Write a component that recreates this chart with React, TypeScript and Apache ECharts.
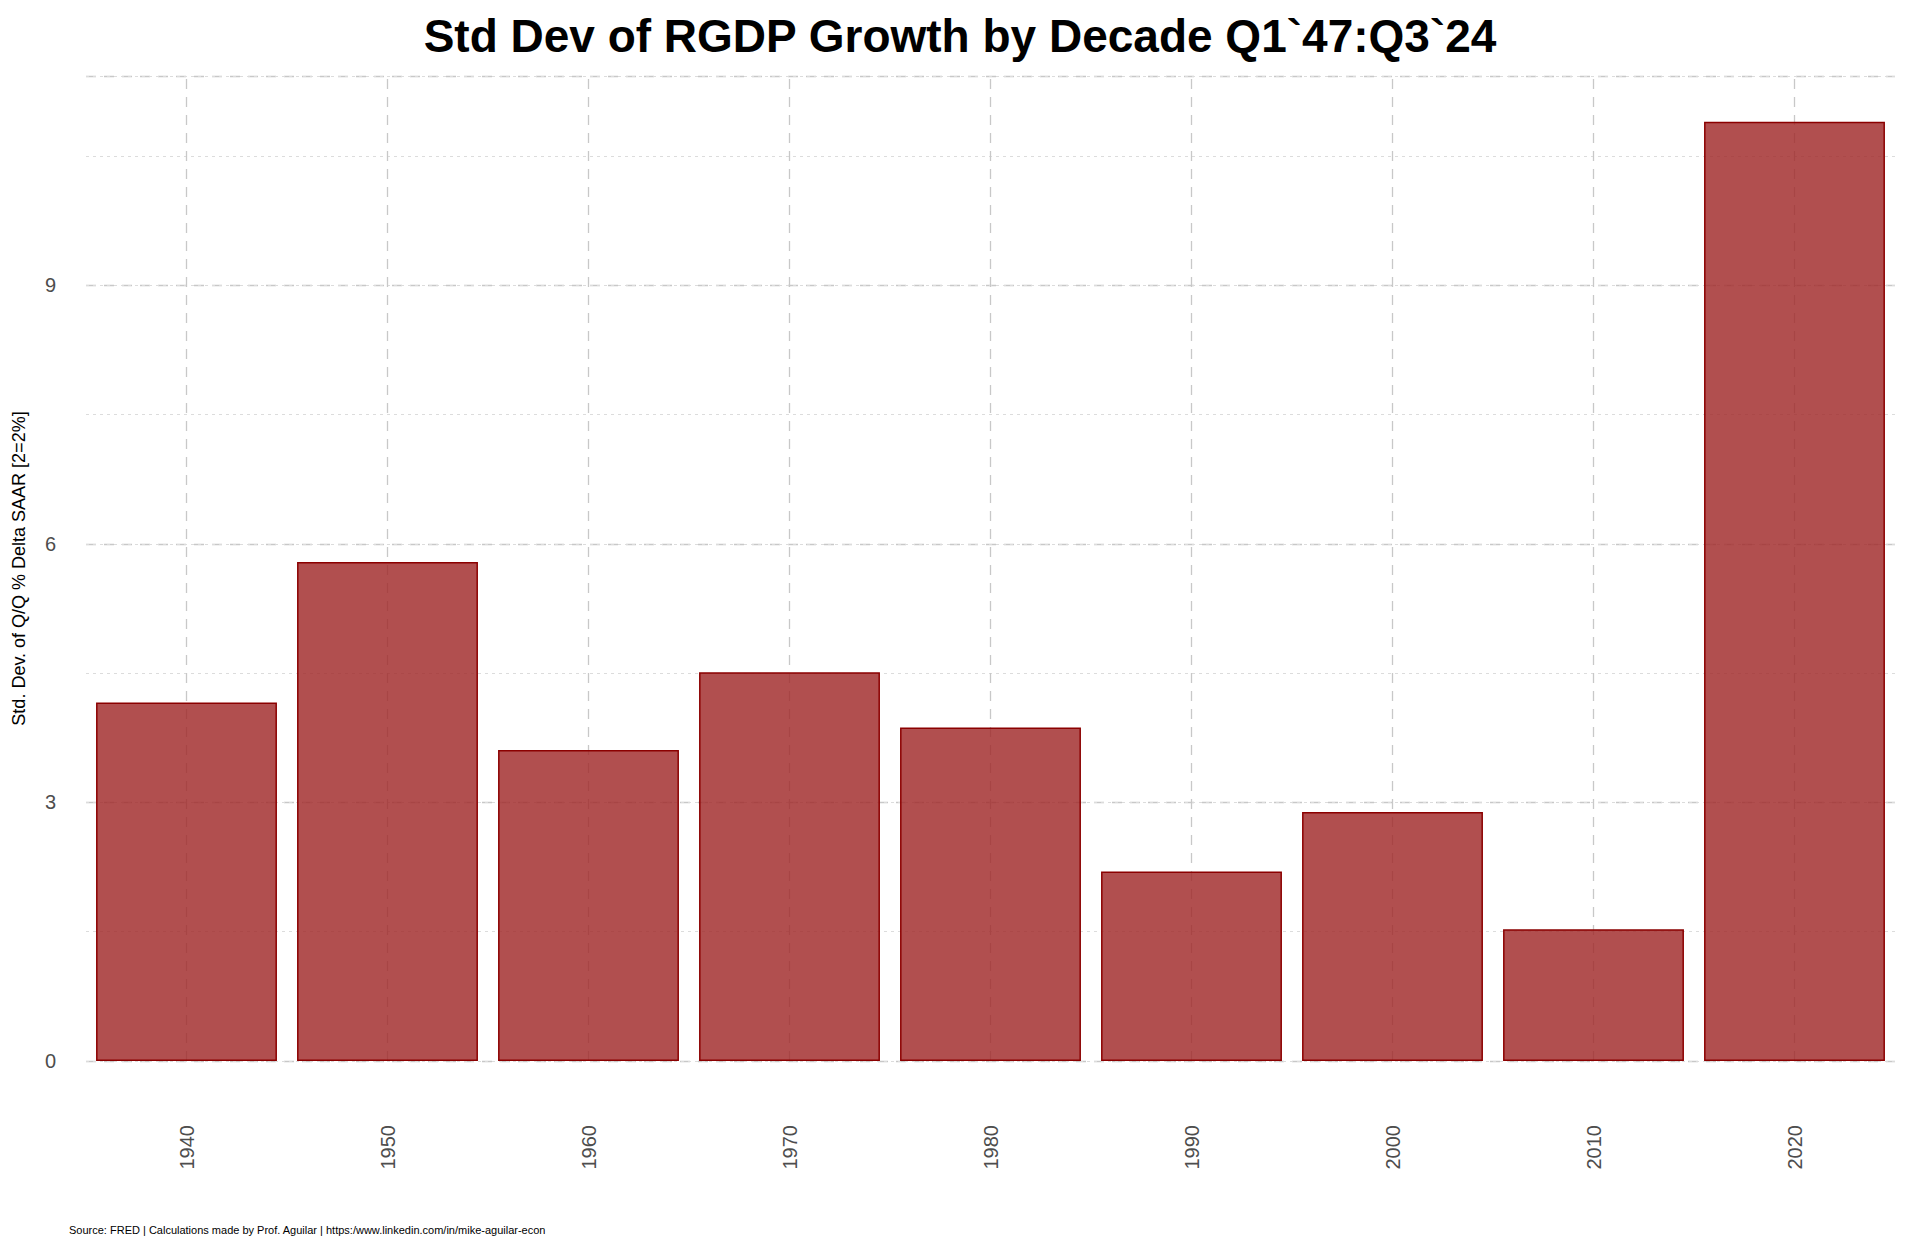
import React, { useEffect, useRef } from "react";
import * as echarts from "echarts";

const decades = ["1940", "1950", "1960", "1970", "1980", "1990", "2000", "2010", "2020"];
const stdDev = [4.16, 5.79, 3.61, 4.51, 3.87, 2.2, 2.89, 1.53, 10.9];
const titleText = "Std Dev of RGDP Growth by Decade Q1`47:Q3`24";
const yName = "Std. Dev. of Q/Q % Delta SAAR [2=2%]";
const caption = "Source: FRED | Calculations made by Prof. Aguilar | https:/www.linkedin.com/in/mike-aguilar-econ";

export default function App() {
  const ref = useRef<HTMLDivElement>(null);
  useEffect(() => {
    const chart = echarts.init(ref.current!, null, { renderer: "svg" });
    const yMax = 11.43;
    chart.setOption({
      animation: false,
      backgroundColor: "#ffffff",
      textStyle: { fontFamily: "Liberation Sans, Arial, sans-serif" },
      title: {
        text: titleText, left: "center", top: 8,
        textStyle: { fontSize: 46, fontWeight: "bold", color: "#000" },
      },
      graphic: [
        { type: "text", left: 69, top: 1224, style: { text: caption, fontSize: 11, fill: "#000" } },
      ],
      grid: { left: 86, right: 25, top: 76, bottom: 187, containLabel: false },
      xAxis: {
        type: "category", data: decades,
        axisLine: { show: false }, axisTick: { show: false }, splitLine: { show: false },
        axisLabel: { rotate: 90, fontSize: 20, color: "#4d4d4d", margin: 64 },
      },
      yAxis: [
        {
          type: "value", min: 0, max: yMax, interval: 3,
          name: yName, nameLocation: "middle", nameGap: 58, nameRotate: 90,
          nameTextStyle: { fontSize: 18, color: "#000" },
          axisLine: { show: false }, axisTick: { show: false },
          axisLabel: { fontSize: 20, color: "#4d4d4d", margin: 30, formatter: (v: number) => (v % 3 === 0 ? String(v) : "") },
          splitLine: { lineStyle: { color: "#c8c8c8", type: [10, 8], width: 1.3 } },
        },
        {
          type: "value", min: 0, max: yMax, interval: 1.5,
          axisLine: { show: false }, axisTick: { show: false }, axisLabel: { show: false },
          splitLine: { lineStyle: { color: "#dcdcdc", type: [3, 4], width: 1 } },
        },
      ],
      series: [
        {
          type: "bar", data: stdDev, barCategoryGap: "10%",
          itemStyle: { color: "rgba(160,40,40,0.82)", borderColor: "#8b0000", borderWidth: 1.5 },
          markLine: {
            silent: true, symbol: "none", label: { show: false }, z: 0,
            lineStyle: { color: "#c8c8c8", type: [10, 8], width: 1.3 },
            data: decades.map((d) => ({ xAxis: d })),
          },
          z: 3,
        },
      ],
    });
    return () => chart.dispose();
  }, []);
  return <div ref={ref} style={{ position: "absolute", left: 0, top: 0, width: 1920, height: 1248 }} />;
}
